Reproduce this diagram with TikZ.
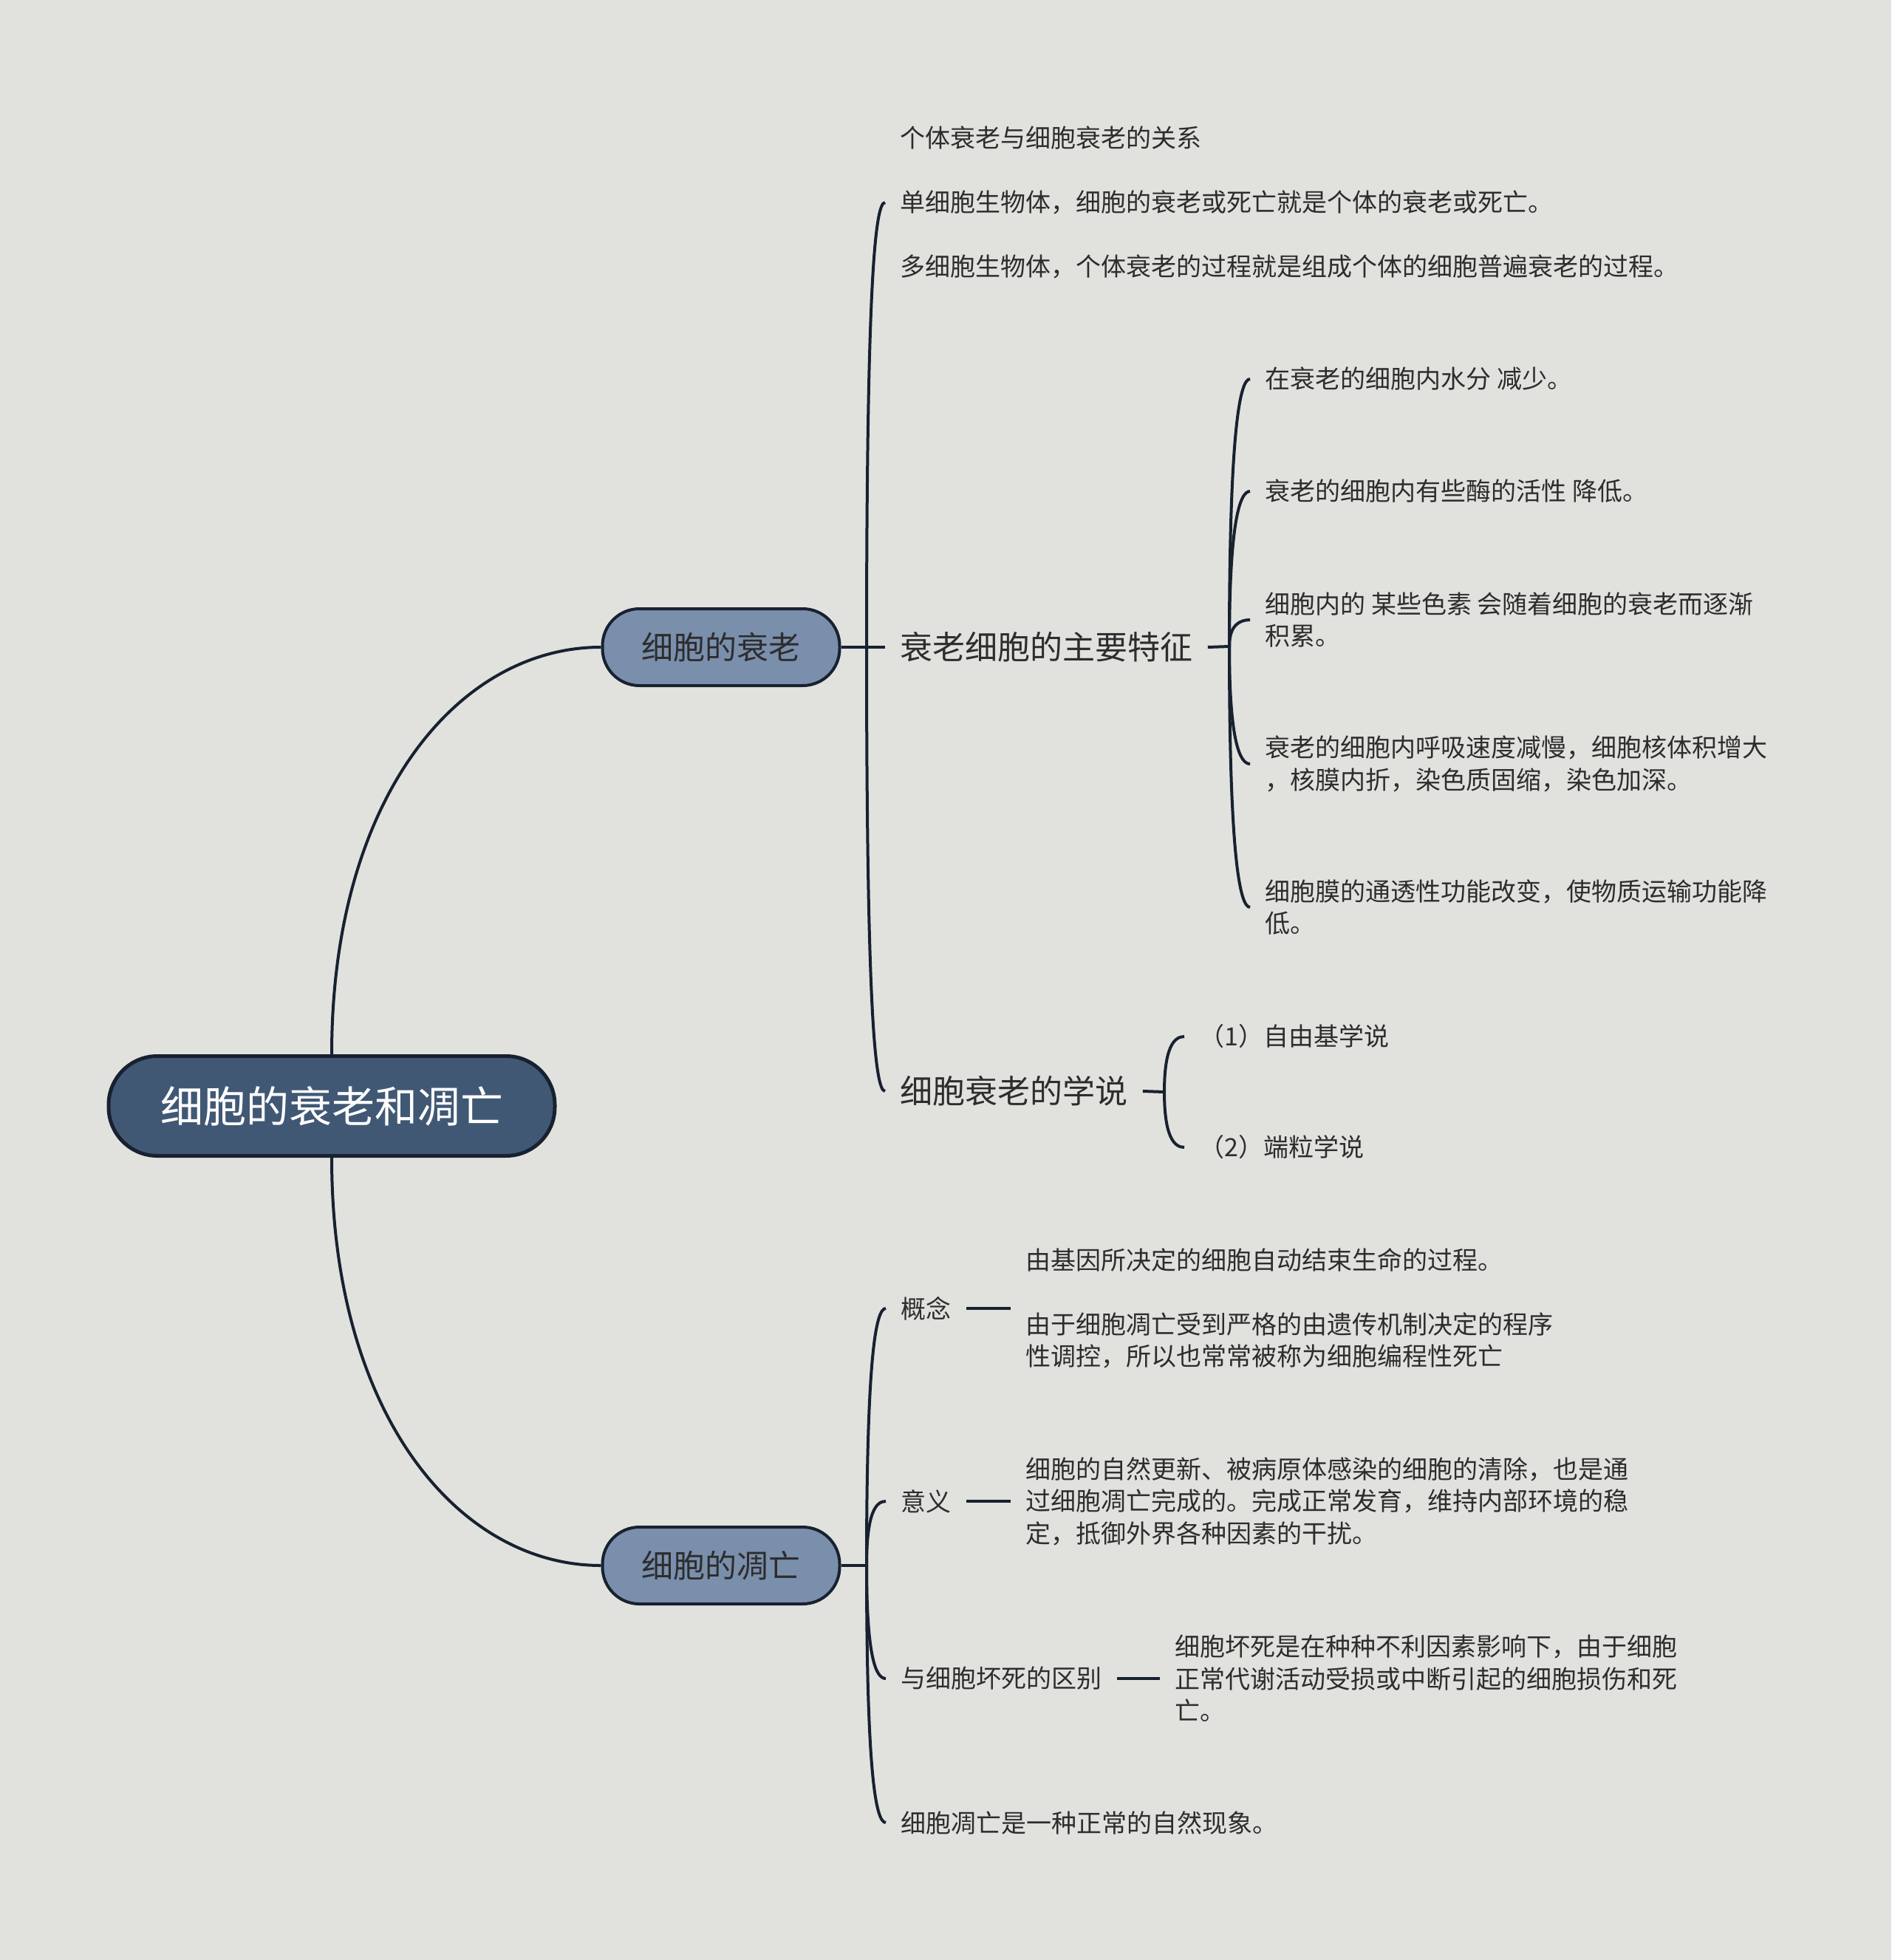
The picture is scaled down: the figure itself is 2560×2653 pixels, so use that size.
\documentclass[tikz,border=0pt]{standalone}
\usepackage{fontspec}
\setmainfont{Noto Sans CJK SC}
\definecolor{bg}{RGB}{225,226,222}
\definecolor{rootfill}{RGB}{65,88,117}
\definecolor{subfill}{RGB}{122,143,172}
\definecolor{edgec}{RGB}{24,33,48}
\definecolor{txt}{RGB}{45,45,45}
\begin{document}
\begin{tikzpicture}[x=0.5pt,y=-0.5pt,
  conn/.style={draw=edgec, line width=2pt},
  rootbox/.style={rectangle, rounded corners=33pt, draw=edgec, line width=2.5pt, fill=rootfill, text=white,
    font=\fontsize{29}{34}\selectfont, minimum width=302pt, minimum height=67.5pt, inner sep=0pt},
  subbox/.style={rectangle, rounded corners=25pt, draw=edgec, line width=2pt, fill=subfill, text=txt,
    font=\fontsize{21.5}{26}\selectfont, minimum width=160.5pt, minimum height=52pt, inner sep=0pt},
  bigtxt/.style={anchor=west, text=txt, font=\fontsize{22}{27}\selectfont, inner xsep=10pt, inner ysep=2pt},
  leaf/.style={anchor=west, text=txt, font=\fontsize{17}{21.75}\selectfont, align=left, inner xsep=10pt, inner ysep=2pt},
]
\useasboundingbox (0,0) rectangle (2560,2653);
\fill[bg] (0,0) rectangle (2560,2653);

% main nodes
\node[rootbox] (root) at (449,1497) {细胞的衰老和凋亡};
\node[subbox] (s1) at (976,876) {细胞的衰老};
\node[subbox] (s2) at (976,2119) {细胞的凋亡};

\draw[conn] (root.north) .. controls (449,1080) and (620,876) .. (s1.west);
\draw[conn] (root.south) .. controls (449,1914) and (620,2119) .. (s2.west);

% branch 1
\node[leaf] (a) at (1198,274) {个体衰老与细胞衰老的关系\\[21.75pt]单细胞生物体，细胞的衰老或死亡就是个体的衰老或死亡。\\[21.75pt]多细胞生物体，个体衰老的过程就是组成个体的细胞普遍衰老的过程。};
\node[bigtxt] (b) at (1198,876) {衰老细胞的主要特征};
\node[bigtxt] (c) at (1198,1477) {细胞衰老的学说};

\coordinate (j1) at (1173,876);
\draw[conn] (s1.east) -- (j1);
\draw[conn] (j1) .. controls +(0,-482) and +(-14,0) .. (a.west);
\draw[conn] (j1) -- (b.west);
\draw[conn] (j1) .. controls +(0,481) and +(-14,0) .. (c.west);

% features
\node[leaf] (b1) at (1692,513) {在衰老的细胞内水分 减少。};
\node[leaf] (b2) at (1692,665) {衰老的细胞内有些酶的活性 降低。};
\node[leaf] (b3) at (1692,839) {细胞内的 某些色素 会随着细胞的衰老而逐渐\\积累。};
\node[leaf] (b4) at (1692,1034) {衰老的细胞内呼吸速度减慢，细胞核体积增大\\，核膜内折，染色质固缩，染色加深。};
\node[leaf] (b5) at (1692,1228) {细胞膜的通透性功能改变，使物质运输功能降\\低。};

\coordinate (j2) at (1664,875);
\draw[conn] (b.east) -- (j2);
\draw[conn] (j2) .. controls +(0,-290) and +(-14,0) .. (b1.west);
\draw[conn] (j2) .. controls +(0,-168) and +(-14,0) .. (b2.west);
\draw[conn] (j2) .. controls +(0,-29) and +(-14,0) .. (b3.west);
\draw[conn] (j2) .. controls +(0,127) and +(-14,0) .. (b4.west);
\draw[conn] (j2) .. controls +(0,282) and +(-14,0) .. (b5.west);

% theories
\node[leaf] (c1) at (1603,1403) {（1）自由基学说};
\node[leaf] (c2) at (1603,1553) {（2）端粒学说};
\coordinate (j3) at (1576,1478);
\draw[conn] (c.east) -- (j3);
\draw[conn] (j3) .. controls +(0,-60) and +(-14,0) .. (c1.west);
\draw[conn] (j3) .. controls +(0,60) and +(-14,0) .. (c2.west);

% branch 2
\node[leaf] (k1) at (1199,1771) {概念};
\node[leaf] (k2) at (1199,2032) {意义};
\node[leaf] (k3) at (1199,2272) {与细胞坏死的区别};
\node[leaf] (k4) at (1199,2467) {细胞凋亡是一种正常的自然现象。};

\coordinate (j4) at (1173,2119);
\draw[conn] (s2.east) -- (j4);
\draw[conn] (j4) .. controls +(0,-278) and +(-14,0) .. (k1.west);
\draw[conn] (j4) .. controls +(0,-70) and +(-14,0) .. (k2.west);
\draw[conn] (j4) .. controls +(0,122) and +(-14,0) .. (k3.west);
\draw[conn] (j4) .. controls +(0,278) and +(-14,0) .. (k4.west);

\node[leaf] (d1) at (1368,1771) {由基因所决定的细胞自动结束生命的过程。\\[21.75pt]由于细胞凋亡受到严格的由遗传机制决定的程序\\性调控，所以也常常被称为细胞编程性死亡};
\node[leaf] (d2) at (1368,2032) {细胞的自然更新、被病原体感染的细胞的清除，也是通\\过细胞凋亡完成的。完成正常发育，维持内部环境的稳\\定，抵御外界各种因素的干扰。};
\node[leaf] (d3) at (1570,2272) {细胞坏死是在种种不利因素影响下，由于细胞\\正常代谢活动受损或中断引起的细胞损伤和死\\亡。};

\draw[conn] (k1.east) -- (d1.west);
\draw[conn] (k2.east) -- (d2.west);
\draw[conn] (k3.east) -- (d3.west);
\end{tikzpicture}
\end{document}
